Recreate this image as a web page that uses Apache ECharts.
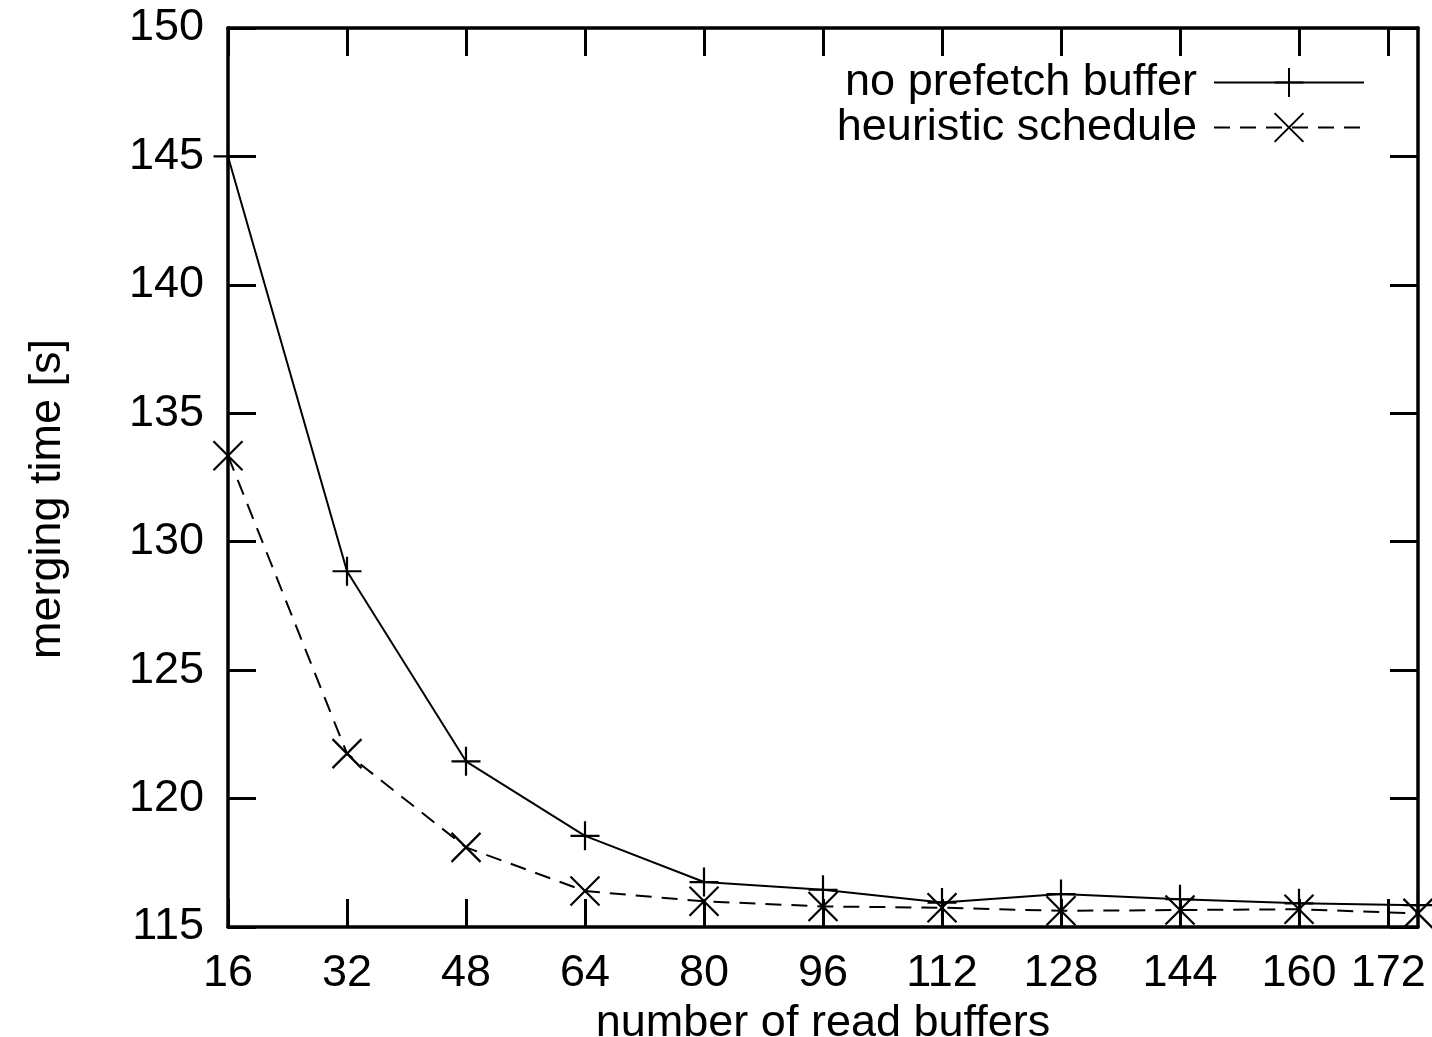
<!DOCTYPE html>
<html>
<head>
<meta charset="utf-8">
<script src="https://cdn.jsdelivr.net/npm/echarts@6/dist/echarts.min.js"></script>
<style>
html,body{margin:0;padding:0;background:#fff;}
#chart{width:1432px;height:1037px;}
</style>
</head>
<body>
<div id="chart"></div>
<script>
// ---- data ----
const readBuffers = [16, 32, 48, 64, 80, 96, 112, 128, 144, 160, 176];
const noPrefetch = [145.0, 128.85, 121.45, 118.55, 116.75, 116.45, 115.95, 116.28, 116.08, 115.92, 115.85];
const heuristic = [133.35, 121.75, 118.1, 116.4, 116.0, 115.8, 115.75, 115.63, 115.66, 115.69, 115.53];
const xTicks = [16, 32, 48, 64, 80, 96, 112, 128, 144, 160, 172];
const yTicks = [115, 120, 125, 130, 135, 140, 145, 150];
const seriesNames = ['no prefetch buffer', 'heuristic schedule'];
const xTitle = 'number of read buffers';
const yTitle = 'merging time [s]';

const FONT = "'Liberation Sans', Arial, sans-serif";
const FS = 45;
const plusPath = 'path://M10,0L10,20M0,10L20,10';
const crossPath = 'path://M0,0L20,20M20,0L0,20';

const axisLine = { show: true, onZero: false, lineStyle: { color: '#000', width: 3.5 } };
const tickStyle = { show: true, inside: true, length: 28, lineStyle: { color: '#000', width: 3 } };

function xAxis(pos, labels) {
  return {
    type: 'value', position: pos, min: 16, max: 176,
    axisLine: axisLine,
    axisTick: Object.assign({ customValues: xTicks }, tickStyle),
    axisLabel: { show: labels, customValues: xTicks, color: '#000', fontSize: FS, fontFamily: FONT, margin: 24 },
    splitLine: { show: false },
    name: labels ? xTitle : '', nameLocation: 'middle', nameGap: 68,
    nameTextStyle: { color: '#000', fontSize: FS, fontFamily: FONT }
  };
}
function yAxis(pos, labels) {
  return {
    type: 'value', position: pos, min: 115, max: 150, interval: 5,
    axisLine: axisLine,
    axisTick: tickStyle,
    axisLabel: { show: labels, customValues: yTicks, color: '#000', fontSize: FS, fontFamily: FONT, margin: 24 },
    splitLine: { show: false }
  };
}

const chart = echarts.init(document.getElementById('chart'), null, { renderer: 'canvas' });
chart.setOption({
  backgroundColor: '#fff',
  animation: false,
  grid: { left: 228, right: 14, top: 28, bottom: 110, containLabel: false, outerBoundsMode: 'none' },
  xAxis: [xAxis('bottom', true), xAxis('top', false)],
  yAxis: [yAxis('left', true), yAxis('right', false)],
  legend: {
    orient: 'vertical', align: 'right', right: 62, top: 55,
    itemWidth: 150, itemHeight: 36, itemGap: 0,
    textStyle: { color: '#000', fontSize: FS, fontFamily: FONT, lineHeight: 44, padding: [0, 12, 0, 0] },
    data: seriesNames
  },
  graphic: [{
    type: 'text', x: 48, y: 499, rotation: Math.PI / 2,
    style: { text: yTitle, fill: '#000', fontSize: FS, fontFamily: FONT, align: 'center', verticalAlign: 'middle' }
  }],
  series: [
    {
      name: seriesNames[0], type: 'line',
      data: readBuffers.map((x, i) => [x, noPrefetch[i]]),
      symbol: plusPath, symbolSize: 29,
      lineStyle: { color: '#000', width: 2 },
      itemStyle: { color: '#000', borderColor: '#000', borderWidth: 2.2 },
      clip: false
    },
    {
      name: seriesNames[1], type: 'line',
      data: readBuffers.map((x, i) => [x, heuristic[i]]),
      symbol: crossPath, symbolSize: 29,
      lineStyle: { color: '#000', width: 2, type: [16, 10] },
      itemStyle: { color: '#000', borderColor: '#000', borderWidth: 2.2 },
      clip: false
    }
  ]
});
</script>
</body>
</html>
